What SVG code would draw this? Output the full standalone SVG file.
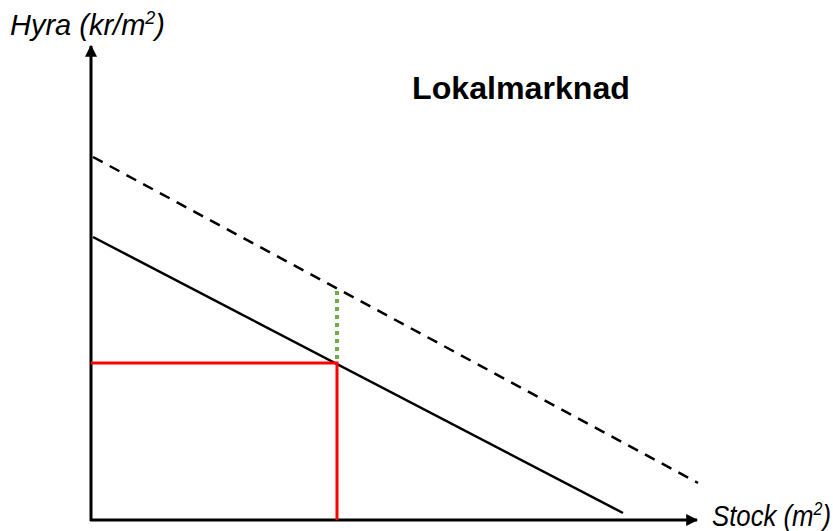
<svg xmlns="http://www.w3.org/2000/svg" width="833" height="531" viewBox="0 0 833 531">
<defs>
<style>
.axis{stroke:#000;stroke-width:3;fill:none}
.lbl{font-family:"Liberation Sans",Arial,sans-serif;font-style:italic;font-size:29px;fill:#000}
.title{font-family:"Liberation Sans",Arial,sans-serif;font-weight:bold;font-size:31px;fill:#000}
</style>
<marker id="arr" viewBox="0 0 10 10" refX="9" refY="5" markerWidth="4" markerHeight="4" markerUnits="strokeWidth" orient="auto">
<path d="M0,0 L10,5 L0,10 z" fill="#000"/>
</marker>
</defs>
<rect width="833" height="531" fill="#fff"/>
<g id="axes">
<line class="axis" x1="91" y1="521" x2="91" y2="46" marker-end="url(#arr)"/>
<line class="axis" x1="90" y1="520" x2="697" y2="520" marker-end="url(#arr)"/>
</g>
<g id="connectors">
<line id="demand-shifted" x1="93" y1="157" x2="698" y2="483" stroke="#000" stroke-width="2.5" stroke-dasharray="11,8"/>
<line id="demand" x1="93" y1="237" x2="623" y2="513" stroke="#000" stroke-width="2.5"/>
<polyline id="equilibrium" points="91,363 337,363 337,520" fill="none" stroke="#ff0000" stroke-width="3"/>
<line id="shift" x1="337" y1="291" x2="337" y2="362" stroke="#70ad47" stroke-width="4" stroke-dasharray="4,4"/>
</g>
<g id="labels">
<text class="lbl" x="10" y="35" textLength="155" lengthAdjust="spacingAndGlyphs">Hyra (kr/m<tspan font-size="18" dy="-11">2</tspan><tspan dy="11">)</tspan></text>
<text class="lbl" x="712" y="526" textLength="119" lengthAdjust="spacingAndGlyphs">Stock (m<tspan font-size="18" dy="-11">2</tspan><tspan dy="11">)</tspan></text>
<text class="title" x="412" y="99" textLength="218" lengthAdjust="spacingAndGlyphs">Lokalmarknad</text>
</g>
</svg>
